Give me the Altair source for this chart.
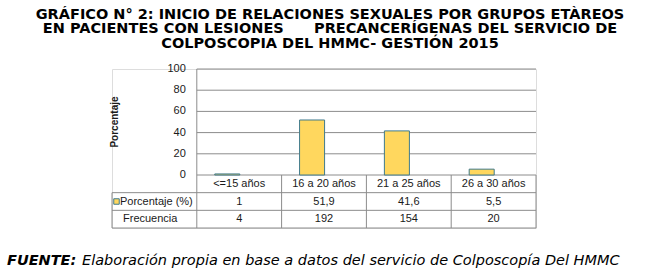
import altair as alt
import pandas as pd

# ---------------- data ----------------
categories = ["<=15 años", "16 a 20 años", "21 a 25 años", "26 a 30 años"]
porcentaje = [1, 51.9, 41.6, 5.5]
frecuencia = [4, 192, 154, 20]
row_labels = ["Porcentaje (%)", "Frecuencia"]
y_ticks = [0, 20, 40, 60, 80, 100]
grid_values = [20, 40, 60, 80, 100]
y_title = "Porcentaje"
title_lines = [
    "GRÁFICO N° 2: INICIO DE RELACIONES SEXUALES POR GRUPOS ETÀREOS",
    "EN PACIENTES CON LESIONES\u00a0\u00a0\u00a0\u00a0\u00a0\u00a0PRECANCERÍGENAS DEL SERVICIO DE",
    "COLPOSCOPIA DEL HMMC- GESTIÓN 2015",
]
footer_bold = "FUENTE:"
footer_text = "Elaboración propia en base a datos del servicio de Colposcopía Del HMMC"

# ---------------- style ----------------
YELLOW = "#FFD75E"
EDGE = "#3F7A8C"
LINE = "#8C8C8C"
TXT = "#1a1a1a"
FONT = "Liberation Sans"
ROW = 100 / 6          # table row height in y units
NCOL = len(categories) + 1
COLW = 424 / NCOL

xs = alt.Scale(domain=[0, NCOL])
ys = alt.Scale(domain=[-3 * ROW, 100])
X = lambda f: alt.X(f, type="quantitative", scale=xs, axis=None)
Y = lambda f: alt.Y(f, type="quantitative", scale=ys, axis=None)

# ---------------- tables ----------------
cols = list(range(1, NCOL))
bars = pd.DataFrame({
    "cat": categories,
    "pct": porcentaje,
    "x0": [c + 0.212 for c in cols],
    "x1": [c + 0.507 for c in cols],
    "zero": [0] * len(cols),
})
cells = pd.DataFrame({
    "cat": categories,
    "pct_lbl": [str(v).replace(".", ",") if v != int(v) else str(int(v)) for v in porcentaje],
    "freq": [str(v) for v in frecuencia],
    "xc": [c + 0.5 for c in cols],
    "y_cat": [-0.5 * ROW] * len(cols),
    "y_pct": [-1.5 * ROW] * len(cols),
    "y_freq": [-2.5 * ROW] * len(cols),
})
grid = pd.DataFrame({"y": grid_values, "x0": [1] * len(grid_values), "x1": [NCOL] * len(grid_values)})
hlines = pd.DataFrame({
    "y": [0, -ROW, -2 * ROW, -3 * ROW],
    "x0": [1, 0, 0, 0],
    "x1": [NCOL] * 4,
})
vlines = pd.DataFrame({
    "x": list(range(0, NCOL + 1)),
    "y0": [-ROW, 100] + [0] * (NCOL - 1),
    "y1": [-3 * ROW] * (NCOL + 1),
})
rows = pd.DataFrame({"lbl": row_labels, "y": [-1.5 * ROW, -2.5 * ROW]})
ticks = pd.DataFrame({"v": y_ticks, "lbl": [str(t) for t in y_ticks]})

# ---------------- layers ----------------
tick_layer = alt.Chart(ticks).mark_text(
    font=FONT, fontSize=11, color=TXT, align="right", baseline="middle").encode(
    x=alt.value(COLW - 11), y=Y("v"), text="lbl:N")

ytitle_layer = alt.Chart(pd.DataFrame({"t": [y_title], "v": [50]})).mark_text(
    font=FONT, fontSize=10, fontWeight="bold", color=TXT, angle=270,
    align="center", baseline="middle").encode(
    x=alt.value(3), y=Y("v"), text="t:N")

grid_layer = alt.Chart(grid).mark_rule(color=LINE, strokeWidth=1).encode(
    y=Y("y"), x=X("x0"), x2="x1")
h_layer = alt.Chart(hlines).mark_rule(color=LINE, strokeWidth=1).encode(
    y=Y("y"), x=X("x0"), x2="x1")
v_layer = alt.Chart(vlines).mark_rule(color=LINE, strokeWidth=1).encode(
    x=X("x"), y=Y("y0"), y2="y1")

bar_layer = alt.Chart(bars).mark_rect(fill=YELLOW, stroke=EDGE, strokeWidth=1).encode(
    x=X("x0"), x2="x1", y=Y("pct"), y2="zero")

def cell(field, yfield):
    return alt.Chart(cells).mark_text(font=FONT, fontSize=11, color=TXT, baseline="middle").encode(
        x=X("xc"), y=Y(yfield), text=f"{field}:N")

cat_layer = cell("cat", "y_cat")
pct_layer = cell("pct_lbl", "y_pct")
freq_layer = cell("freq", "y_freq")

def row_text(i, px):
    return alt.Chart(rows.iloc[i:i + 1]).mark_text(
        font=FONT, fontSize=11, color=TXT, align="left", baseline="middle").encode(
        x=alt.value(px), y=Y("y"), text="lbl:N")

row_layer1 = row_text(0, 8)
row_layer2 = row_text(1, 11)

key_layer = alt.Chart(rows.iloc[:1]).mark_point(
    shape="square", filled=True, fill=YELLOW, stroke=EDGE, strokeWidth=1, size=30, opacity=1
).encode(x=alt.value(4.5), y=Y("y"))

FOOT_FONT = "DejaVu Sans"
foot1 = alt.Chart(pd.DataFrame({"t": [footer_bold]})).mark_text(
    font=FOOT_FONT, fontSize=14.5, fontWeight="bold", fontStyle="italic", align="left",
    baseline="alphabetic", color="black").encode(x=alt.value(7 - 112), y=alt.value(196), text="t:N")
foot2 = alt.Chart(pd.DataFrame({"t": [footer_text]})).mark_text(
    font=FOOT_FONT, fontSize=14.5, fontStyle="italic", align="left",
    baseline="alphabetic", color="black").encode(x=alt.value(82 - 112), y=alt.value(196), text="t:N")

chart = alt.layer(
    grid_layer, h_layer, v_layer, bar_layer, tick_layer, ytitle_layer,
    cat_layer, pct_layer, freq_layer, row_layer1, row_layer2, key_layer, foot1, foot2,
).properties(
    width=424, height=159,
    autosize=alt.AutoSizeParams(type="none"),
    padding={"left": 112, "top": 69, "right": 125, "bottom": 41},
    title=alt.Title(
        text=title_lines, font="DejaVu Sans", fontSize=14.5, fontWeight="bold",
        color="black", anchor="middle", frame="group", dx=6, offset=12, lineHeight=14.5,
    ),
).configure_view(stroke=None).configure(background="white")

chart.save("out.html", embed_options={"renderer": "svg", "actions": False})
